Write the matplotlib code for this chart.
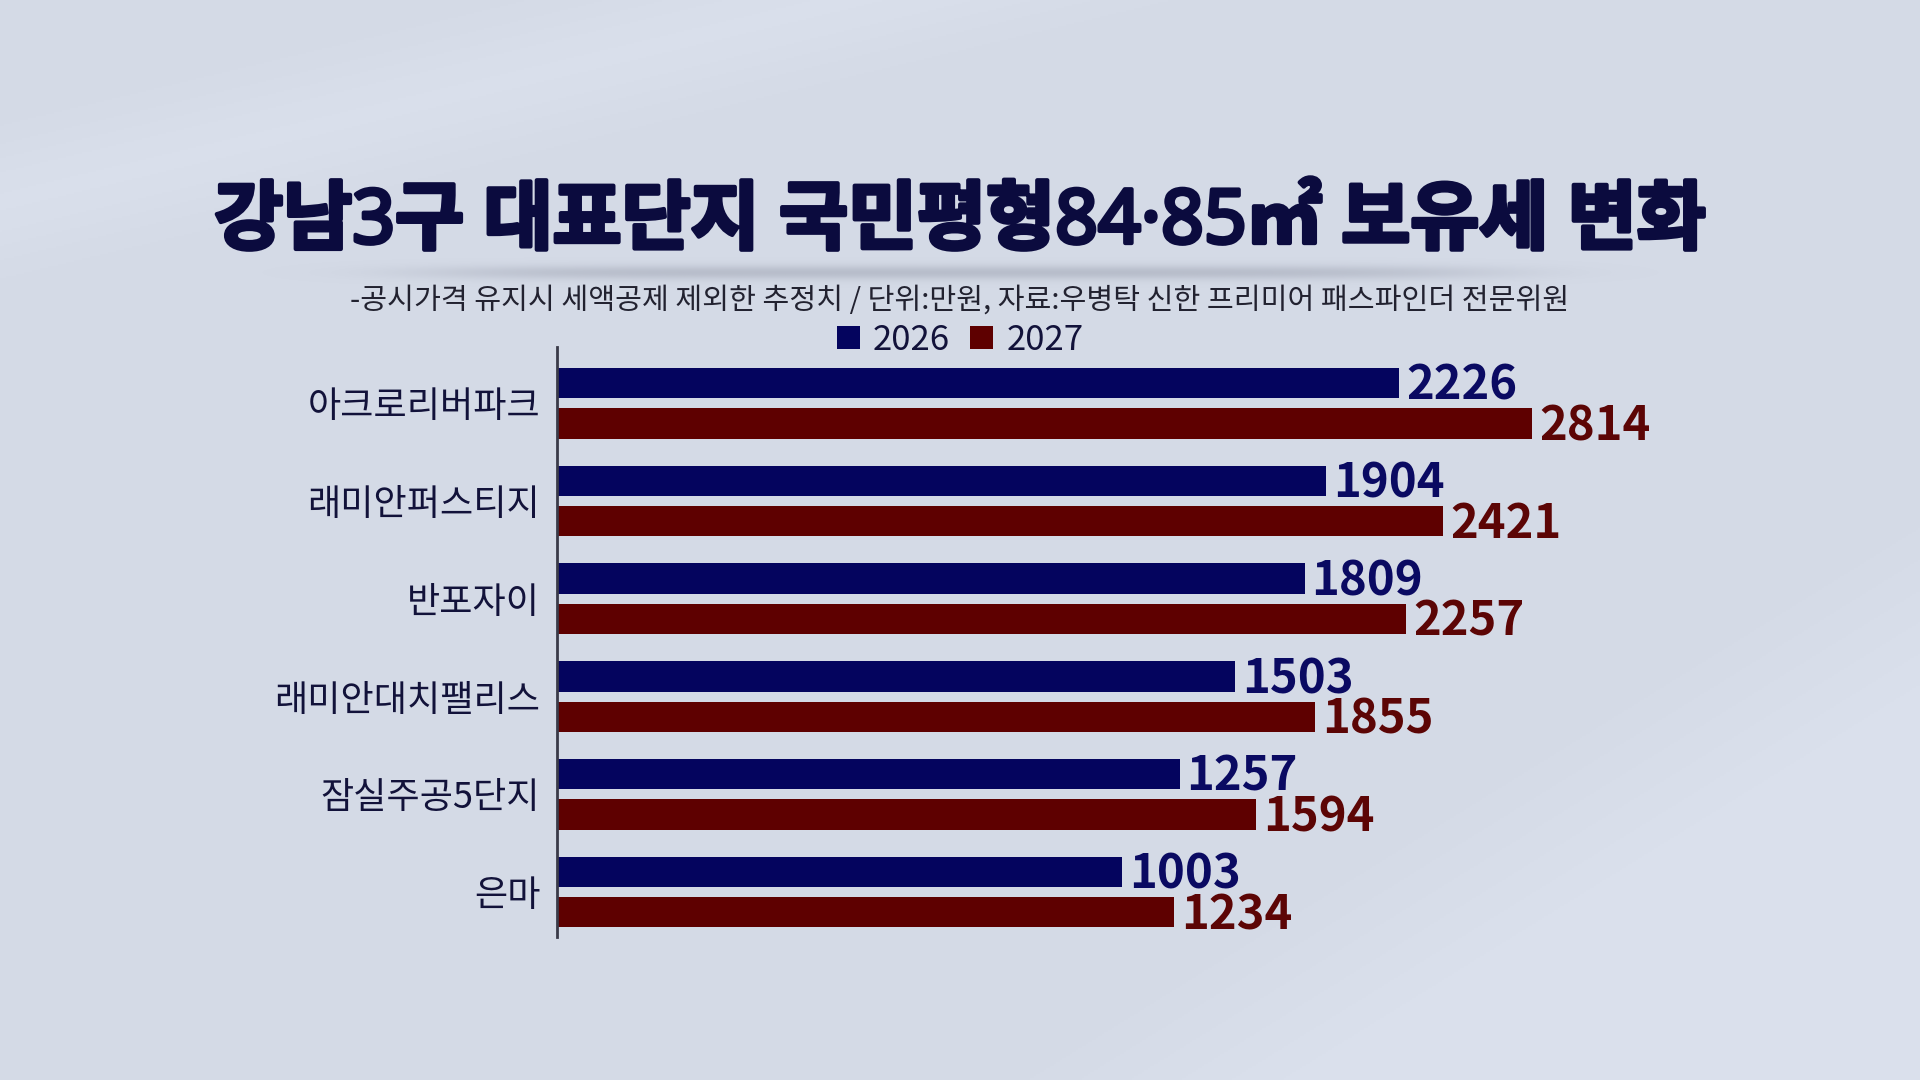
import numpy as np
import matplotlib
matplotlib.use("Agg")
import matplotlib.pyplot as plt
import matplotlib.patheffects as pe

plt.rcParams['font.family'] = ['Noto Sans CJK KR', 'DejaVu Sans']

# data
complexes = ['아크로리버파크', '래미안퍼스티지', '반포자이', '래미안대치팰리스', '잠실주공5단지', '은마']
tax_2026 = [2226, 1904, 1809, 1503, 1257, 1003]
tax_2027 = [2814, 2421, 2257, 1855, 1594, 1234]
series_names = ['2026', '2027']

title = '강남3구 대표단지 국민평형84·85㎡ 보유세 변화'
subtitle = '-공시가격 유지시 세액공제 제외한 추정치 / 단위:만원, 자료:우병탁 신한 프리미어 패스파인더 전문위원'

navy = '#04045e'
maroon = '#5e0000'
text_dark = '#12123a'

fig = plt.figure(figsize=(19.2, 10.8), dpi=100)

# background with soft diagonal streaks
bg = fig.add_axes([0, 0, 1, 1], zorder=-10)
h, w = 540, 960
yy = np.linspace(0, 1, h)[:, None] * np.ones((1, w))
xx = np.ones((h, 1)) * np.linspace(0, 1, w)[None, :]
base = np.array([212, 218, 230]) / 255.0
img = np.ones((h, w, 3)) * base
# upper-left lighter band
d1 = (yy * 1080) - (165 * 1.22 - xx * 1920 * 0.238)
band1 = np.exp(-(d1 / 60.0) ** 2) * 0.02
# lower-right lighter wedge
d2 = (yy * 1080) - (1080 - (xx * 1920 - 980) * 0.62)
band2 = np.clip(d2 / 200.0, 0, 1) * 0.025
img = np.clip(img + (band1 + band2)[:, :, None], 0, 1)
bg.imshow(img, aspect='auto', extent=[0, 1, 0, 1], origin='upper')
# soft shadow line under the title
sx = np.linspace(0, 1, 400)
sy = np.linspace(0, 1, 40)
shade = np.exp(-((sy[:, None] - 0.5) / 0.22) ** 2) * np.exp(-((sx[None, :] - 0.5) / 0.38) ** 6)
shadow = np.zeros((40, 400, 4))
shadow[..., :3] = np.array([150, 155, 170]) / 255.0
shadow[..., 3] = shade * 0.45
bg.imshow(shadow, aspect='auto', extent=[0.13, 0.87, 0.732, 0.762], origin='upper')
bg.set_xlim(0, 1)
bg.set_ylim(0, 1)
bg.axis('off')

# bars
ax = fig.add_axes([0.2901, 0.1327, 0.61, 0.546])
ax.patch.set_alpha(0)

y = np.arange(len(complexes))
bar_h = 0.31
offset = 0.206
x_start = -1490  # the graphic's bars do not start from zero

v26 = np.array(tax_2026)
v27 = np.array(tax_2027)
b1 = ax.barh(y - offset, v26 - x_start, left=x_start, height=bar_h, color=navy, label=series_names[0])
b2 = ax.barh(y + offset, v27 - x_start, left=x_start, height=bar_h, color=maroon, label=series_names[1])

for rects, vals, col in [(b1, v26, '#0a0a62'), (b2, v27, '#5c0505')]:
    for rect, v in zip(rects, vals):
        ax.annotate(f'{v}', xy=(v, rect.get_y() + rect.get_height() / 2),
                    xytext=(5, -2), textcoords='offset points',
                    ha='left', va='center', fontsize=34, fontweight='bold', color=col)

ax.set_xlim(x_start, 3678)
ax.set_ylim(len(complexes) - 1 + 0.456, -0.575)
ax.set_yticks(y)
ax.set_yticklabels(complexes, fontsize=26, color=text_dark)
ax.tick_params(axis='y', length=0, pad=12)
ax.set_xticks([])
for side in ['top', 'right', 'bottom']:
    ax.spines[side].set_visible(False)
ax.spines['left'].set_color('#3a3a48')
ax.spines['left'].set_linewidth(2)

fig.text(0.5, 0.793, title, ha='center', va='center', fontsize=54,
         fontweight='heavy', color='#0b0b3e', family=['Noto Sans', 'Noto Sans CJK KR'],
         path_effects=[pe.withStroke(linewidth=3, foreground='#0b0b3e')])
fig.text(0.5, 0.722, subtitle, ha='center', va='center', fontsize=21, color='#222230')

fig.legend(handles=[b1, b2], labels=series_names, loc='center', bbox_to_anchor=(0.5, 0.685),
           ncol=2, frameon=False, fontsize=25, handlelength=0.66, handleheight=0.66,
           handletextpad=0.37, columnspacing=0.6, labelcolor=text_dark)

fig.savefig('out.png', dpi=100)
